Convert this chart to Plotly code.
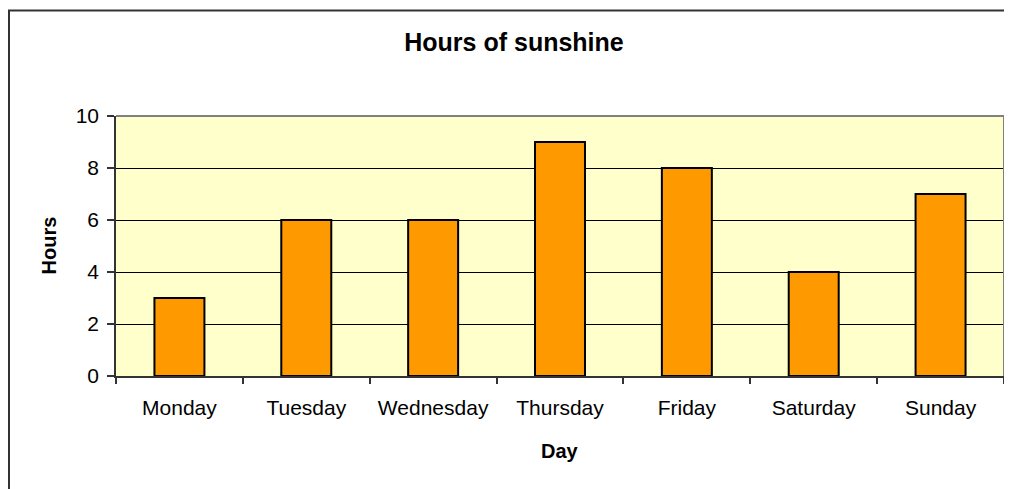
import plotly.graph_objects as go

days = ["Monday", "Tuesday", "Wednesday", "Thursday", "Friday", "Saturday", "Sunday"]
hours = [3, 6, 6, 9, 8, 4, 7]

W, H = 1012, 489
L, R, T, B = 108, 16, 108, 121
pw, ph = W - L - R, H - T - B


def px_x(x):
    return (x - L) / pw


def px_y(y):
    return 1 - (y - T) / ph


fig = go.Figure(go.Bar(
    x=days, y=hours,
    marker=dict(color="#FF9900", line=dict(color="#000000", width=2)),
    width=0.394,
))

fig.update_layout(
    width=W, height=H,
    margin=dict(l=L, r=R, t=T, b=B),
    paper_bgcolor="white",
    plot_bgcolor="#FFFFCC",
    font=dict(family="Liberation Sans, Arial, sans-serif", size=21, color="#000000"),
    title=dict(text="<b>Hours of sunshine</b>", x=0.5, xanchor="center",
               y=1 - 34 / H, yanchor="middle", font=dict(size=25)),
    showlegend=False,
    xaxis=dict(
        type="category", tickson="boundaries", ticks="outside", ticklen=6,
        tickcolor="#333333", tickwidth=1.5,
        showline=True, linecolor="#333333", linewidth=1.5,
        showgrid=False, tickfont=dict(size=21), ticklabelstandoff=12,
    ),
    yaxis=dict(
        range=[0, 10], dtick=2, ticks="outside", ticklen=7,
        tickcolor="#333333", tickwidth=1.5,
        showline=True, linecolor="#333333", linewidth=1.5,
        showgrid=True, gridcolor="#000000", gridwidth=1,
        zeroline=False, tickfont=dict(size=21), ticklabelstandoff=4,
    ),
    annotations=[
        dict(text="<b>Hours</b>", xref="paper", yref="paper",
             x=px_x(40.5), y=0.5, textangle=-90, showarrow=False,
             xanchor="center", yanchor="middle", font=dict(size=20)),
        dict(text="<b>Day</b>", xref="paper", yref="paper",
             x=0.5, y=px_y(443), showarrow=False,
             xanchor="center", yanchor="middle", font=dict(size=20)),
    ],
    shapes=[
        dict(type="line", xref="paper", yref="paper", x0=0, x1=1, y0=1, y1=1,
             line=dict(color="#808080", width=2)),
        dict(type="line", xref="paper", yref="paper", x0=1, x1=1, y0=0, y1=1,
             line=dict(color="#808080", width=2)),
        dict(type="rect", xref="paper", yref="paper",
             x0=px_x(1), x1=px_x(1030), y0=px_y(2.5), y1=px_y(520),
             line=dict(color="#333333", width=2), layer="above"),
    ],
)

fig.write_html("out.html")
